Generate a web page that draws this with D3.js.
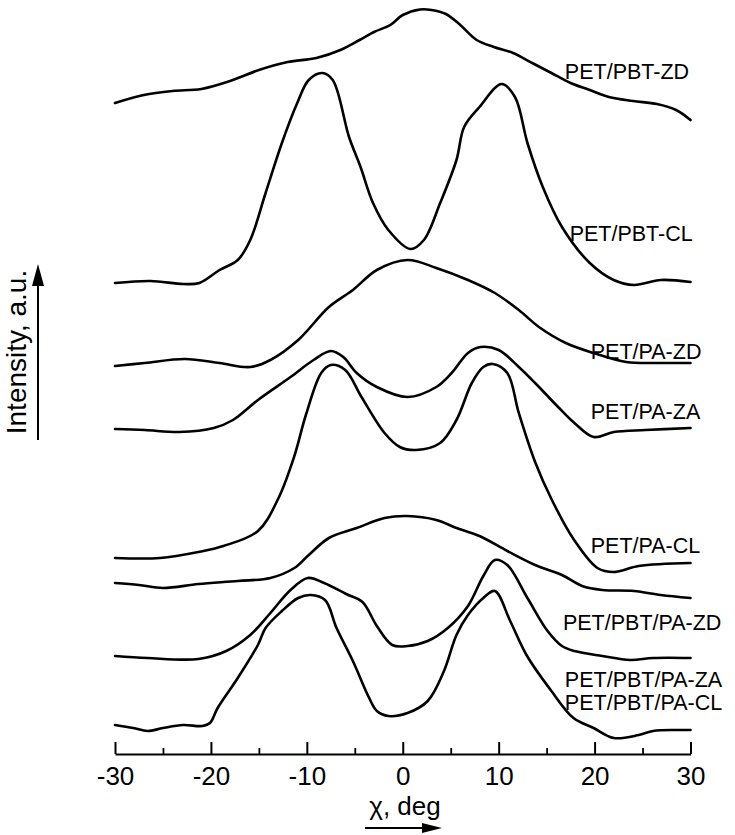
<!DOCTYPE html>
<html>
<head>
<meta charset="utf-8">
<script src="https://cdn.jsdelivr.net/npm/d3@7"></script>
<style>
  html, body { margin: 0; padding: 0; background: #fff; }
  svg { display: block; }
</style>
</head>
<body>
<div id="chart"></div>
<script>
// azimuthal scans, stacked intensity (a.u.) vs chi (deg)
const petPbtZD = [[-30,65.1],[-27,65.9],[-24,66.3],[-21,66.5],[-18,67.3],[-15,68.4],[-12,69.2],[-9,69.6],[-6.5,70.4],[-4.5,71.4],[-3,72.2],[-1.3,72.9],[0,73.9],[1.8,74.45],[3,74.4],[4.5,74.0],[6,72.9],[7.7,71.4],[9.5,70.7],[11.5,70.1],[13.5,69.1],[15.5,68.1],[17.5,67.1],[19.5,66.4],[21.5,65.7],[24,65.3],[26.5,65.0],[28.5,64.4],[30,63.4]];
const petPbtCL = [[-30,47.1],[-26.3,47.3],[-22.9,47.0],[-21.2,47.1],[-19.1,48.4],[-17.2,49.4],[-15.9,51.4],[-14.3,56.1],[-12.6,61.1],[-11,65.1],[-9.8,67.4],[-8.4,68.1],[-7.3,67.4],[-5.6,61.7],[-4.4,58.7],[-3.1,55.1],[-1.5,52.4],[0.8,50.5],[2.2,51.4],[3.9,55.1],[5.6,59.4],[6.4,62.7],[8,64.7],[10.3,67.0],[11.7,65.7],[13,61.1],[14.6,56.7],[16.6,52.7],[19.5,49.1],[22,47.4],[24.1,46.9],[26.9,47.4],[30,47.2]];
const petPaZD = [[-30,38.8],[-26.9,39.1],[-22.7,39.5],[-19.1,39.1],[-15.9,38.7],[-13.8,39.4],[-10.9,41.4],[-7.7,44.7],[-5.2,46.4],[-2.7,48.4],[0.5,49.4],[3.5,48.6],[6.8,47.4],[9.6,46.1],[12.1,44.4],[14.2,42.7],[17,41.1],[19.9,40.1],[23.3,39.2],[26.9,39.1],[30,39.1]];
const petPaZA = [[-30,32.5],[-26.9,32.4],[-23.3,32.2],[-19.7,32.6],[-17.7,33.4],[-15.1,35.4],[-11.7,37.7],[-9.3,39.4],[-7.5,40.3],[-6.2,39.7],[-4.8,38.1],[-2.7,36.7],[0.5,35.7],[3.5,36.7],[5.1,38.1],[6.8,40.1],[8.1,40.7],[10,40.4],[12.1,38.7],[13.8,37.1],[16.2,34.7],[17.9,33.1],[19.9,31.7],[22,32.2],[25.3,32.4],[30,32.6]];
const petPaCL = [[-30,19.6],[-25.3,19.6],[-21.3,20.2],[-18.7,20.8],[-15.1,22.3],[-13,25.5],[-11.3,29.8],[-10.1,33.9],[-8.5,38.1],[-7.5,38.9],[-6,38.4],[-4.3,35.7],[-1.9,32.1],[-0.3,30.7],[1.4,30.4],[3.9,31.1],[5.6,33.4],[7.2,37.1],[8.4,38.7],[9.4,39.0],[10.9,38.1],[12.1,34.1],[13.8,29.2],[15.5,25.5],[17.8,21.5],[20.3,18.6],[22,18.2],[24.6,18.8],[30,19.1]];
const petPbtPaZD = [[-30,17.1],[-27.5,16.9],[-25,16.6],[-21.3,17.0],[-17.2,17.3],[-13.8,17.6],[-11.3,18.6],[-9.8,19.9],[-7.7,21.6],[-4.8,22.6],[-1.9,23.6],[0.5,23.8],[3.5,23.4],[5.6,22.6],[8,21.8],[10.9,20.3],[13.8,18.9],[16.6,17.9],[18.7,16.8],[20.8,16.4],[24.1,16.3],[26.9,15.9],[30,15.6]];
const petPbtPaZA = [[-30,9.8],[-26.6,9.6],[-21.3,9.5],[-18.4,10.3],[-15.9,11.9],[-13.8,14.1],[-11.7,16.4],[-9.9,17.6],[-8.2,17.1],[-5.9,16.0],[-4.2,15.2],[-2.7,12.8],[-1.1,10.9],[0.5,10.8],[2.6,11.3],[4.7,12.6],[6.8,14.8],[8.4,17.8],[9.6,19.4],[10.9,18.9],[13,15.6],[15.1,12.3],[16.6,10.8],[17.9,10.3],[20.8,9.8],[23.7,9.4],[26.1,9.6],[30,9.6]];
const petPbtPaCL = [[-30,2.9],[-28.1,2.6],[-26.6,2.3],[-25,2.6],[-22.9,2.9],[-20.9,2.8],[-20.1,3.1],[-19.3,4.6],[-17.2,7.6],[-15.1,10.9],[-14.3,12.6],[-12.6,14.3],[-10.9,15.6],[-9.6,15.9],[-8.1,15.4],[-6.9,12.6],[-5.2,9.3],[-3.5,5.6],[-2.7,4.3],[-1.5,3.8],[0.5,4.1],[2.6,5.3],[4.3,8.3],[5.6,11.9],[6.8,13.9],[8.4,15.6],[9.6,16.3],[11.2,13.3],[12.9,9.9],[15.5,6.3],[17.8,3.6],[19.9,2.6],[22,1.6],[24.6,1.9],[26.1,2.3],[28.6,2.4],[30,2.4]];

const seriesNames = ["PET/PBT-ZD", "PET/PBT-CL", "PET/PA-ZD", "PET/PA-ZA", "PET/PA-CL",
  "PET/PBT/PA-ZD", "PET/PBT/PA-ZA", "PET/PBT/PA-CL"];
const seriesData = [petPbtZD, petPbtCL, petPaZD, petPaZA, petPaCL, petPbtPaZD, petPbtPaZA, petPbtPaCL];

const majorTicks = [-30, -20, -10, 0, 10, 20, 30];
const minorTicks = [-25, -15, -5, 5, 15, 25];

const width = 735;
const height = 835;
const font = "'Liberation Sans', Arial, Helvetica, sans-serif";

const svg = d3.select("#chart").append("svg")
  .attr("width", width)
  .attr("height", height)
  .style("background", "#fff");

const x = d3.scaleLinear().domain([-30, 30]).range([115, 690.5]);
const y = d3.scaleLinear().domain([0, 75.4]).range([754, 0]);

const line = d3.line()
  .x((d) => x(d[0]))
  .y((d) => y(d[1]))
  .curve(d3.curveCatmullRom.alpha(0.5));

svg.append("g")
  .selectAll("path")
  .data(seriesData)
  .join("path")
  .attr("d", line)
  .attr("fill", "none")
  .attr("stroke", "#000")
  .attr("stroke-width", 2.6)
  .attr("stroke-linejoin", "round")
  .attr("stroke-linecap", "round");

// label anchors in data units (left edge, baseline)
const labelAt = [[16.9, 67.5], [17.4, 51.3], [19.6, 39.5], [19.6, 33.5], [19.6, 20.1], [16.7, 12.4], [16.9, 6.7], [16.9, 4.4]];

svg.append("g")
  .selectAll("text")
  .data(seriesNames)
  .join("text")
  .attr("x", (d, i) => x(labelAt[i][0]))
  .attr("y", (d, i) => y(labelAt[i][1]))
  .attr("font-family", font)
  .attr("font-size", 21.5)
  .attr("fill", "#000")
  .text((d) => d);

// x axis: ticks point up, labels below
const axisY = y(0);
svg.append("g")
  .attr("transform", `translate(0,${axisY})`)
  .call(d3.axisBottom(x).tickValues(majorTicks).tickFormat((d) => String(d))
    .tickSize(-12).tickSizeOuter(0).tickPadding(13))
  .call((g) => g.select(".domain").attr("stroke-width", 2))
  .call((g) => g.selectAll(".tick line").attr("stroke-width", 2))
  .call((g) => g.selectAll(".tick text")
    .attr("font-family", font)
    .attr("font-size", 26)
    .attr("fill", "#000"));

svg.append("g")
  .attr("transform", `translate(0,${axisY})`)
  .call(d3.axisBottom(x).tickValues(minorTicks).tickSize(-6).tickSizeOuter(0).tickFormat(""))
  .call((g) => g.select(".domain").remove())
  .call((g) => g.selectAll(".tick line").attr("stroke-width", 1.8));

// axis titles with arrows
svg.append("text")
  .attr("x", 405)
  .attr("y", 815)
  .attr("text-anchor", "middle")
  .attr("font-family", font)
  .attr("font-size", 26)
  .text("χ, deg");

svg.append("line")
  .attr("x1", 365).attr("x2", 425)
  .attr("y1", 828).attr("y2", 828)
  .attr("stroke", "#000").attr("stroke-width", 2);
svg.append("path")
  .attr("d", "M442,828 L422,823 L422,833 Z")
  .attr("fill", "#000");

svg.append("text")
  .attr("transform", "translate(26,352) rotate(-90)")
  .attr("text-anchor", "middle")
  .attr("font-family", font)
  .attr("font-size", 28)
  .text("Intensity, a.u.");

svg.append("line")
  .attr("x1", 38).attr("x2", 38)
  .attr("y1", 440).attr("y2", 282)
  .attr("stroke", "#000").attr("stroke-width", 2);
svg.append("path")
  .attr("d", "M38,264 L32,286 L44,286 Z")
  .attr("fill", "#000");
</script>
</body>
</html>
